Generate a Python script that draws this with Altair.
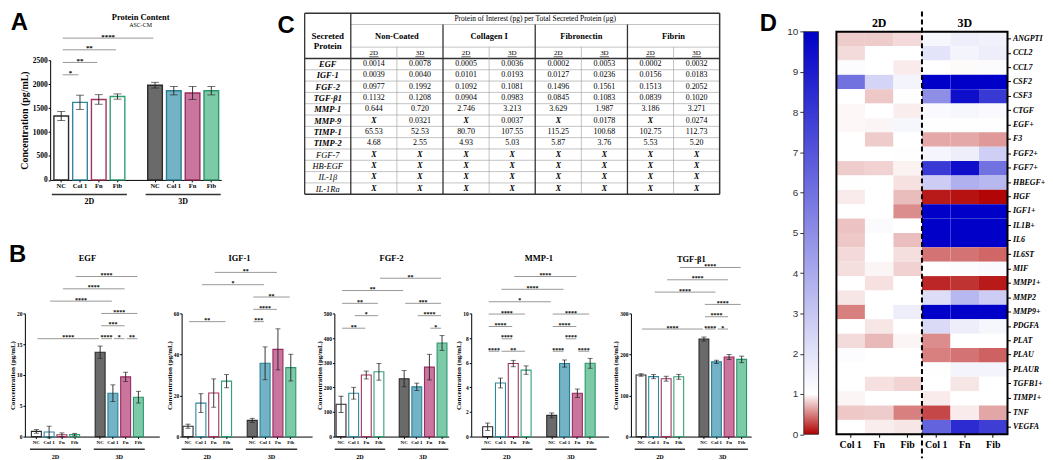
import altair as alt
import pandas as pd

SX, SY = 0.99, 0.98
SERIF = "Liberation Serif"
SANS = "Liberation Sans"

# ---------------- shared categories ----------------
conditions = ["NC", "Col 1", "Fn", "Fib"]
dims = ["2D", "3D"]
SPACER = "gap"
bar_keys = [f"2D|{c}" for c in conditions] + [SPACER] + [f"3D|{c}" for c in conditions]
real_keys = [k for k in bar_keys if k != SPACER]
fill_colors = ["#ffffff", "#ffffff", "#ffffff", "#ffffff", "#6a6a6a", "#73b3c5", "#c9759d", "#7dcaa9"]
stroke_colors = ["#2b2b2b", "#2f87a1", "#a3335f", "#30a072", "#2b2b2b", "#2a7f97", "#982c60", "#2c966b"]

# ---------------- Panel A: protein content ----------------
a_mean_2d = [1335, 1619, 1680, 1741]
a_err_2d = [95, 150, 100, 55]
a_mean_3d = [1978, 1863, 1816, 1863]
a_err_3d = [60, 88, 135, 88]
a_ticks = [0, 500, 1000, 1500, 2000, 2500]
a_brackets = [("2D|NC", "3D|NC", 2961, "****"), ("2D|NC", "2D|Fib", 2717, "**"),
              ("2D|NC", "2D|Fn", 2453, "**"), ("2D|NC", "2D|Col 1", 2195, "*")]

# ---------------- Panel B ----------------
egf_2d = [0.84, 0.74, 0.3, 0.32]
egf_err_2d = [0.3, 0.95, 0.3, 0.2]
egf_3d = [13.7, 7.05, 9.7, 6.4]
egf_err_3d = [1.0, 1.35, 0.75, 0.95]
egf_ticks = [0, 5, 10, 15, 20]
egf_br = [("2D|Fib", "3D|Fib", 26, "****"), ("2D|Fn", "3D|Fn", 24, "****"),
          ("2D|Col 1", "3D|Col 1", 22, "****"), ("3D|NC", "3D|Fib", 20, "****"),
          ("3D|NC", "3D|Fn", 18, "***"), ("2D|NC", "3D|NC", 15.9, "****"),
          ("3D|NC", "3D|Col 1", 15.9, "****"), ("3D|Col 1", "3D|Fn", 15.9, "*"),
          ("3D|Fn", "3D|Fib", 15.9, "**")]

igf_2d = [5.05, 16.3, 21.2, 27.0]
igf_err_2d = [1.0, 4.6, 6.9, 3.2]
igf_3d = [7.9, 35.7, 42.5, 33.6]
igf_err_3d = [1.0, 8.0, 10.0, 6.5]
igf_ticks = [0, 20, 40, 60]
igf_br = [("2D|Fn", "3D|Fn", 80, "**"), ("2D|Col 1", "3D|Col 1", 74, "*"),
          ("3D|NC", "3D|Fib", 68, "**"), ("3D|NC", "3D|Fn", 62, "****"),
          ("2D|NC", "2D|Fib", 56, "**"), ("3D|NC", "3D|Col 1", 56, "***")]

fgf_2d = [131, 176, 250, 263]
fgf_err_2d = [33, 24, 16, 34]
fgf_3d = [235, 202, 282, 380]
fgf_err_3d = [33, 15, 52, 30]
fgf_ticks = [0, 100, 200, 300, 400, 500]
fgf_br = [("2D|Fib", "3D|Fib", 643, "**"), ("2D|NC", "3D|NC", 593, "**"),
          ("2D|NC", "2D|Fib", 541, "**"), ("3D|NC", "3D|Fib", 541, "***"),
          ("2D|Col 1", "2D|Fib", 491, "*"), ("3D|Col 1", "3D|Fib", 491, "****"),
          ("2D|NC", "2D|Fn", 440, "**"), ("3D|Fn", "3D|Fib", 440, "*")]

mmp_2d = [0.8, 4.35, 5.93, 5.4]
mmp_err_2d = [0.3, 0.4, 0.26, 0.34]
mmp_3d = [1.72, 5.93, 3.52, 5.95]
mmp_err_3d = [0.2, 0.29, 0.34, 0.4]
mmp_ticks = [0, 2, 4, 6, 8, 10]
mmp_br = [("2D|Fn", "3D|Fn", 13.0, "****"), ("2D|Col 1", "3D|Col 1", 11.96, "****"),
          ("2D|NC", "3D|NC", 10.95, "*"), ("2D|NC", "2D|Fib", 9.95, "****"),
          ("3D|NC", "3D|Fib", 9.95, "****"), ("2D|NC", "2D|Fn", 8.94, "****"),
          ("3D|NC", "3D|Fn", 8.94, "****"), ("2D|Col 1", "2D|Fn", 7.94, "****"),
          ("3D|Col 1", "3D|Fn", 7.94, "****"), ("2D|NC", "2D|Col 1", 6.93, "****"),
          ("2D|Col 1", "2D|Fib", 6.93, "**"), ("3D|NC", "3D|Col 1", 6.93, "****"),
          ("3D|Fn", "3D|Fib", 6.93, "****")]

tgf_2d = [150, 146, 141, 145.6]
tgf_err_2d = [3, 5, 6, 6]
tgf_3d = [237.6, 182, 194, 188]
tgf_err_3d = [5, 4, 6, 8]
tgf_ticks = [0, 100, 200, 300]
tgf_br = [("2D|Fib", "3D|Fib", 412, "****"), ("2D|Fn", "3D|Fn", 382, "****"),
          ("2D|Col 1", "3D|Col 1", 352, "****"), ("3D|NC", "3D|Fib", 322, "****"),
          ("3D|NC", "3D|Fn", 292, "****"), ("2D|NC", "3D|NC", 262, "****"),
          ("3D|NC", "3D|Col 1", 262, "****"), ("3D|Col 1", "3D|Fn", 262, "*")]

# ---------------- Panel C: table ----------------
coatings = ["Non-Coated", "Collagen I", "Fibronectin", "Fibrin"]
detected_proteins = ["EGF", "IGF-1", "FGF-2", "TGF-β1", "MMP-1", "MMP-9", "TIMP-1", "TIMP-2"]
undetected_proteins = ["FGF-7", "HB-EGF", "IL-1β", "IL-1Ra"]
table_proteins = detected_proteins + undetected_proteins
nc_2d = ["0.0014", "0.0039", "0.0977", "0.1132", "0.644", "X", "65.53", "4.68", "X", "X", "X", "X"]
nc_3d = ["0.0078", "0.0040", "0.1992", "0.1208", "0.720", "0.0321", "52.53", "2.55", "X", "X", "X", "X"]
col_2d = ["0.0005", "0.0101", "0.1092", "0.0904", "2.746", "X", "80.70", "4.93", "X", "X", "X", "X"]
col_3d = ["0.0036", "0.0193", "0.1081", "0.0983", "3.213", "0.0037", "107.55", "5.03", "X", "X", "X", "X"]
fn_2d = ["0.0002", "0.0127", "0.1496", "0.0845", "3.629", "X", "115.25", "5.87", "X", "X", "X", "X"]
fn_3d = ["0.0053", "0.0236", "0.1561", "0.1083", "1.987", "0.0178", "100.68", "3.76", "X", "X", "X", "X"]
fib_2d = ["0.0002", "0.0156", "0.1513", "0.0839", "3.186", "X", "102.75", "5.53", "X", "X", "X", "X"]
fib_3d = ["0.0032", "0.0183", "0.2052", "0.1020", "3.271", "0.0274", "112.73", "5.20", "X", "X", "X", "X"]
table_title = "Protein of Interest (pg) per Total Secreted Protein (μg)"
table_header = "Secreted\nProtein"

# ---------------- Panel D: heatmap ----------------
genes = ["ANGPTI", "CCL2", "CCL7", "CSF2", "CSF3", "CTGF", "EGF+", "F3", "FGF2+", "FGF7+",
         "HBEGF+", "HGF", "IGF1+", "IL1B+", "IL6", "IL6ST", "MIF", "MMP1+", "MMP2", "MMP9+",
         "PDGFA", "PLAT", "PLAU", "PLAUR", "TGFB1+", "TIMP1+", "TNF", "VEGFA"]
hm_2d_col1 = [0.8, 0.86, 1.1, 6.0, 1.0, 0.97, 0.97, 1.0, 1.0, 0.8, 1.05, 0.92, 1.0, 0.76,
              0.78, 0.85, 0.87, 1.0, 0.9, 0.5, 1.0, 0.86, 1.1, 1.0, 1.0, 0.96, 0.78, 1.0]
hm_2d_fn = [0.8, 1.0, 1.0, 2.5, 0.78, 1.0, 0.96, 0.8, 1.0, 0.82, 1.0, 1.0, 1.0, 1.15,
            1.0, 1.0, 0.96, 0.88, 1.0, 1.0, 0.9, 0.72, 1.0, 1.0, 0.88, 1.0, 0.8, 0.93]
hm_2d_fib = [0.85, 1.0, 0.92, 1.4, 1.05, 0.93, 1.3, 1.0, 1.05, 0.95, 0.88, 0.74, 0.55, 1.0,
             0.75, 0.87, 0.82, 1.0, 1.0, 1.6, 1.0, 0.96, 1.0, 1.0, 0.83, 1.0, 0.5, 0.9]
hm_3d_col1 = [1.3, 2.0, 1.0, 10, 5.0, 1.2, 1.05, 0.66, 1.35, 8.0, 2.8, 0.1, 10, 10,
              10, 0.45, 1.0, 0.15, 2.2, 10, 2.3, 0.55, 0.5, 1.05, 1.0, 0.92, 0.28, 6.5]
hm_3d_fn = [1.6, 1.4, 0.98, 10, 9.5, 1.3, 1.05, 0.66, 1.6, 9.5, 3.8, 0.07, 10, 10,
            10, 0.45, 1.1, 0.2, 3.5, 10, 1.6, 1.0, 0.45, 1.4, 0.9, 1.0, 0.92, 8.5]
hm_3d_fib = [1.5, 1.6, 1.15, 10, 8.0, 1.2, 1.05, 0.6, 2.7, 6.0, 3.5, 0.02, 10, 10,
             10, 0.4, 1.2, 0.1, 2.8, 10, 1.3, 1.0, 0.38, 1.4, 1.0, 1.0, 0.65, 7.8]
hm_conditions = ["Col 1", "Fn", "Fib"]
cb_domain = [0, 1, 10]
cb_colors = ["#b00000", "#ffffff", "#0000c8"]
cb_ticks = list(range(0, 11))

LABEL_EXPR = "indexof(datum.value, '|') > 0 ? slice(datum.value, indexof(datum.value, '|') + 1) : ''"
LETTER_HALF = 0.722 * 24 / 2  # half advance width of a 24px bold sans capital


def text_layer(text, x, y, font=SERIF, size=8, weight="bold", style="normal", align="center"):
    d = pd.DataFrame({"t": [text]})
    return alt.Chart(d).mark_text(font=font, fontSize=size, fontWeight=weight, fontStyle=style,
                                  align=align, baseline="middle", color="black").encode(
        x=x, y=y, text="t:N")


def bar_panel(title, m2, e2, m3, e3, brackets, ymax, yticks, ytitle, w, h, po, al,
              big=False, x0=0.0, letter=None, letter_xy=(0, 0), subtitle=None,
              title_x=None, title_dy=-56.5):
    """w, x0, h, letter_xy, title_* are in reference pixels (scaled here)."""
    if big:
        fs = dict(ylab=7.5, ytitle=10, xlab=6.5, grp=8, star=7, cap=8, sw=1.4, title=8.5,
                  ul=15, gl=23, tpad=3)
    else:
        fs = dict(ylab=5.5, ytitle=7, xlab=5, grp=6.2, star=6, cap=5, sw=1.1, title=8.5,
                  ul=13, gl=21.4, tpad=1)
    W, X0, H = w * SX, x0 * SX, h * SY
    df = pd.DataFrame({"key": real_keys, "mean": m2 + m3, "err": e2 + e3})
    xs = alt.Scale(domain=bar_keys, paddingInner=0, paddingOuter=po, align=al, range=[X0, W])
    ys = alt.Scale(domain=[0, ymax], nice=False)
    xaxis = alt.Axis(values=real_keys, labelExpr=LABEL_EXPR, title=None, labelAngle=0,
                     labelFont=SERIF, labelFontWeight="bold", labelFontSize=fs["xlab"],
                     labelColor="black", labelPadding=1, tickSize=2, tickColor="black",
                     domainColor="black")
    yaxis = alt.Axis(values=yticks, format="d", title=ytitle, titleFont=SERIF,
                     titleFontWeight="bold", titleFontSize=fs["ytitle"], titleColor="black",
                     titlePadding=fs["tpad"], labelFont=SERIF, labelFontWeight="bold",
                     labelFontSize=fs["ylab"], labelColor="black", labelPadding=1, tickSize=2,
                     tickColor="black", domainColor="black", grid=False, offset=-X0)

    def X(field, **kw):
        return alt.X(field, scale=xs, axis=xaxis, **kw)

    def Y(field):
        return alt.Y(field, scale=ys, axis=yaxis)

    base = alt.Chart(df)
    bars = base.mark_bar(width=alt.RelativeBandSize(band=0.78), strokeWidth=fs["sw"]).encode(
        x=X("key:N"), y=Y("mean:Q"),
        fill=alt.Fill("key:N", scale=alt.Scale(domain=real_keys, range=fill_colors), legend=None),
        stroke=alt.Stroke("key:N", scale=alt.Scale(domain=real_keys, range=stroke_colors), legend=None),
    )
    eb = base.transform_calculate(lo="datum.mean - datum.err", hi="datum.mean + datum.err")
    err_rule = eb.mark_rule(color="#222222", strokeWidth=0.9).encode(
        x=X("key:N"), y=Y("lo:Q"), y2="hi:Q")
    caps = eb.transform_fold(["lo", "hi"], as_=["end", "v"]).mark_tick(
        color="#222222", thickness=0.9, size=fs["cap"]).encode(x=X("key:N"), y=Y("v:Q"))

    rows = []
    for a, b, lvl, lab in brackets:
        m = (bar_keys.index(a) + bar_keys.index(b)) / 2
        rows.append({"k1": a, "k2": b, "lvl": lvl, "lab": lab,
                     "mk": bar_keys[int(m)], "half": m != int(m)})
    br = pd.DataFrame(rows)
    br_rule = alt.Chart(br).mark_rule(color="#8c8c8c", strokeWidth=0.9).encode(
        x=X("k1:N", bandPosition=0.58), x2=alt.X2("k2:N", bandPosition=0.42), y=Y("lvl:Q"))
    layers = [bars, err_rule, caps, br_rule]
    for half, bp in ((False, 0.5), (True, 1.0)):
        sub = br[br["half"] == half]
        if len(sub):
            layers.append(alt.Chart(sub).mark_text(
                font=SERIF, fontWeight="bold", fontSize=fs["star"], baseline="alphabetic",
                align="center", color="black", dy=0.5).encode(
                x=X("mk:N", bandPosition=bp), y=Y("lvl:Q"), text="lab:N"))

    grows = []
    for d in dims:
        ks = [k for k in real_keys if k.startswith(d + "|")]
        grows.append({"dim": d, "first": ks[0], "last": ks[-1], "mid": ks[len(ks) // 2 - 1]})
    gdf = pd.DataFrame(grows)
    layers.append(alt.Chart(gdf).mark_rule(color="#333333", strokeWidth=1.4).encode(
        x=X("first:N", bandPosition=0), x2=alt.X2("last:N", bandPosition=1),
        y=alt.value(H + fs["ul"] * SY)))
    layers.append(alt.Chart(gdf).mark_text(font=SERIF, fontWeight="bold", fontSize=fs["grp"],
                                           baseline="middle", color="black").encode(
        x=X("mid:N", bandPosition=1), y=alt.value(H + fs["gl"] * SY), text="dim:N"))

    # panel title: centred on the spacer band between the 2D and 3D groups
    inner = W - X0
    step = inner / (len(bar_keys) + 2 * po)
    cx = X0 + (inner - len(bar_keys) * step) * al + (bar_keys.index(SPACER) + 0.5) * step
    if title_x is not None:
        cx = title_x * SX
    layers.append(text_layer(title, alt.value(cx), alt.value(title_dy * SY), size=fs["title"]))
    if subtitle:
        layers.append(text_layer(subtitle, alt.value(cx), alt.value((title_dy + 8) * SY),
                                 size=6, weight="normal"))
    if letter:
        layers.append(text_layer(letter, alt.value(letter_xy[0] * SX), alt.value(letter_xy[1] * SY),
                                 font=SANS, size=24))
    return alt.layer(*layers).properties(width=W, height=H)


# Panel A: origin placed at the EGF plot's left edge (ref x 17.3), plot starts 25.7 px further right
A = bar_panel("Protein Content", a_mean_2d, a_err_2d, a_mean_3d, a_err_3d, a_brackets,
              2500, a_ticks, "Concentration (pg/mL)", 199.7, 123, 0.06, 0.75, big=True,
              x0=25.7, letter="A", letter_xy=(-5.5, -38), subtitle="ASC-CM",
              title_x=117.7, title_dy=-44)

BH = 126.5
B1 = bar_panel("EGF", egf_2d, egf_err_2d, egf_3d, egf_err_3d, egf_br, 20, egf_ticks,
               "Concentration (pg/mL)", 136.7, BH, 0.77, 0.26, letter="B", letter_xy=(-7.3, -60.5))
B2 = bar_panel("IGF-1", igf_2d, igf_err_2d, igf_3d, igf_err_3d, igf_br, 60, igf_ticks,
               "Concentration (pg/mL)", 132.7, BH, 0.58, 0.0)
B3 = bar_panel("FGF-2", fgf_2d, fgf_err_2d, fgf_3d, fgf_err_3d, fgf_br, 500, fgf_ticks,
               "Concentration (pg/mL)", 116.3, BH, 0.03, 0.5)
B4 = bar_panel("MMP-1", mmp_2d, mmp_err_2d, mmp_3d, mmp_err_3d, mmp_br, 10, mmp_ticks,
               "Concentration (ng/mL)", 139.7, BH, 0.86, 0.455)
B5 = bar_panel("TGF-β1", tgf_2d, tgf_err_2d, tgf_3d, tgf_err_3d, tgf_br, 300, tgf_ticks,
               "Concentration (ng/mL)", 122.3, BH, 0.28, 0.54, title_dy=-55.5)

# ---------------- table (origin shares A's plot top; table drawn 48.3 px higher) ----------------
T_ROWS = ["title", "grp_a", "grp_b", "dim"] + table_proteins
T_COLS = ["name"] + [f"{c}|{d}" for c in coatings for d in dims]
col_values = [nc_2d, nc_3d, col_2d, col_3d, fn_2d, fn_3d, fib_2d, fib_3d]
T_UP = 48.3 * SY
TW, TH = 422 * SX, 186 * SY
txs = alt.Scale(domain=T_COLS, paddingInner=0, paddingOuter=0)
tys = alt.Scale(domain=T_ROWS, paddingInner=0, paddingOuter=0, range=[-T_UP, TH - T_UP])


def t_hline(rows, bp, sw, color):
    d = pd.DataFrame(rows, columns=["y", "x1", "x2"])
    return alt.Chart(d).mark_rule(strokeWidth=sw, color=color).encode(
        y=alt.Y("y:N", scale=tys, bandPosition=bp, axis=None),
        x=alt.X("x1:N", scale=txs, bandPosition=0, axis=None),
        x2=alt.X2("x2:N", bandPosition=1))


def t_vline(rows, bp, sw, color):
    d = pd.DataFrame(rows, columns=["x", "y1", "y2"])
    return alt.Chart(d).mark_rule(strokeWidth=sw, color=color).encode(
        x=alt.X("x:N", scale=txs, bandPosition=bp, axis=None),
        y=alt.Y("y1:N", scale=tys, bandPosition=0, axis=None),
        y2=alt.Y2("y2:N", bandPosition=1))


def t_text(rows, xbp=0.5, ybp=0.5, **mk):
    d = pd.DataFrame(rows, columns=["x", "y", "t"])
    return alt.Chart(d).mark_text(font=SERIF, color="black", baseline="middle",
                                  align="center", **mk).encode(
        x=alt.X("x:N", scale=txs, bandPosition=xbp, axis=None),
        y=alt.Y("y:N", scale=tys, bandPosition=ybp, axis=None),
        text="t:N")


# short underline beneath each 2D / 3D column label
ul_df = pd.DataFrame({"col": T_COLS[1:], "row": ["dim"] * (len(T_COLS) - 1)})
t_underline = alt.Chart(ul_df).mark_rule(strokeWidth=0.6, color="black").encode(
    x=alt.X("col:N", scale=txs, bandPosition=0.4, axis=None),
    x2=alt.X2("col:N", bandPosition=0.6),
    y=alt.Y("row:N", scale=tys, bandPosition=0.85, axis=None))

first_val, last_col, last_row = T_COLS[1], T_COLS[-1], table_proteins[-1]
t_layers = [
    t_hline([("grp_a", first_val, last_col), ("dim", first_val, last_col)] +
            [(p, "name", last_col) for p in table_proteins[1:]], 0, 0.6, "#9a9a9a"),
    t_hline([("title", "name", last_col), (table_proteins[0], "name", last_col)], 0, 1.5, "#333333"),
    t_hline([(last_row, "name", last_col)], 1, 1.5, "#333333"),
    t_vline([(f"{c}|3D", "dim", last_row) for c in coatings], 0, 0.6, "#9a9a9a"),
    t_vline([("name", "title", last_row), (first_val, "title", last_row)] +
            [(f"{c}|2D", "grp_a", last_row) for c in coatings[1:]], 0, 1.3, "#333333"),
    t_vline([(last_col, "title", last_row)], 1, 1.5, "#333333"),
    t_underline,
    t_text([("name", "grp_a", table_header)], 0.5, 1.0, fontSize=9, fontWeight="bold",
           lineBreak="\n", lineHeight=10.5),
    t_text([(T_COLS[4], "title", table_title)], 1.0, 0.5, fontSize=7.5),
    t_text([(f"{c}|2D", "grp_a", c) for c in coatings], 1.0, 1.0, fontSize=8.5, fontWeight="bold"),
    t_text([(col, "dim", col.split("|")[1]) for col in T_COLS[1:]], fontSize=7),
    t_text([("name", p, p) for p in detected_proteins], fontSize=8.5, fontWeight="bold",
           fontStyle="italic"),
    t_text([("name", p, p) for p in undetected_proteins], fontSize=8.5, fontStyle="italic"),
    t_text([(col, p, v) for col, vals in zip(T_COLS[1:], col_values)
            for p, v in zip(table_proteins, vals) if v != "X"], fontSize=8),
    t_text([(col, p, v) for col, vals in zip(T_COLS[1:], col_values)
            for p, v in zip(table_proteins, vals) if v == "X"], fontSize=8, fontWeight="bold",
           fontStyle="italic"),
    text_layer("C", alt.value(-19 * SX), alt.value(-35 * SY), font=SANS, size=24),
]
C = alt.layer(*t_layers).properties(width=TW, height=TH - T_UP)

# ---------------- heatmap (origin shares A's plot top; map drawn 29.3 px higher) ----------------
D_UP = 29.3 * SY
HW, HH = 174 * SX, 413.6 * SY
hm_cols = [f"{d}|{c}" for d in dims for c in hm_conditions]
hm_lists = [hm_2d_col1, hm_2d_fn, hm_2d_fib, hm_3d_col1, hm_3d_fn, hm_3d_fib]
hm_df = pd.DataFrame([{"gene": g, "col": c, "v": vals[i]}
                      for c, vals in zip(hm_cols, hm_lists) for i, g in enumerate(genes)])
hxs = alt.Scale(domain=hm_cols, paddingInner=0, paddingOuter=0)
hys = alt.Scale(domain=genes, paddingInner=0, paddingOuter=0, range=[-D_UP, HH - D_UP])
hx_axis = alt.Axis(labelExpr=LABEL_EXPR, title=None, labelAngle=0, labelFont=SERIF,
                   labelFontWeight="bold", labelFontSize=10, labelColor="black",
                   tickSize=3, tickColor="black", domain=False, labelPadding=2)
hy_axis = alt.Axis(orient="right", title=None, labelFont=SERIF, labelFontWeight="bold",
                   labelFontStyle="italic", labelFontSize=8, labelColor="black", tickSize=3,
                   tickColor="black", domain=False, labelPadding=2)
color_scale = alt.Scale(domain=cb_domain, range=cb_colors, clamp=True, interpolate="rgb")
hm_rect = alt.Chart(hm_df).mark_rect(strokeWidth=0).encode(
    x=alt.X("col:N", scale=hxs, axis=hx_axis),
    y=alt.Y("gene:N", scale=hys, axis=hy_axis),
    color=alt.Color("v:Q", scale=color_scale, legend=None),
)
frame_df = pd.DataFrame({"c0": [hm_cols[0]], "c1": [hm_cols[-1]], "g0": [genes[0]], "g1": [genes[-1]]})
hm_frame = alt.Chart(frame_df).mark_rect(filled=False, stroke="black", strokeWidth=2).encode(
    x=alt.X("c0:N", scale=hxs, bandPosition=0, axis=hx_axis), x2=alt.X2("c1:N", bandPosition=1),
    y=alt.Y("g0:N", scale=hys, bandPosition=0, axis=hy_axis), y2=alt.Y2("g1:N", bandPosition=1))
sep_df = pd.DataFrame({"sep": [hm_cols[len(hm_conditions) - 1]]})
hm_sep = alt.Chart(sep_df).mark_rule(color="black", strokeWidth=2, strokeDash=[5, 3]).encode(
    x=alt.X("sep:N", scale=hxs, bandPosition=1, axis=hx_axis),
    y=alt.value(-50 * SY), y2=alt.value(409 * SY))
top_df = pd.DataFrame({"dim": dims, "mid": [hm_cols[i * len(hm_conditions) + 1] for i in range(len(dims))]})
hm_top = alt.Chart(top_df).mark_text(font=SERIF, fontWeight="bold", fontSize=12, color="black",
                                     baseline="middle").encode(
    x=alt.X("mid:N", scale=hxs, axis=hx_axis), y=alt.value(-38.3 * SY), text="dim:N")
HM = alt.layer(hm_rect, hm_frame, hm_sep, hm_top).properties(width=HW, height=HH - D_UP)

# colour bar
span = cb_domain[-1] - cb_domain[0]
grad = alt.LinearGradient(gradient="linear", x1=0, x2=0, y1=1, y2=0,
                          stops=[alt.GradientStop(offset=(d - cb_domain[0]) / span, color=c)
                                 for d, c in zip(cb_domain, cb_colors)])
cb_df = pd.DataFrame({"lo": [cb_domain[0]], "hi": [cb_domain[-1]]})
cb_bar = alt.Chart(cb_df).mark_rect(fill=grad, stroke="#222222", strokeWidth=0.8).encode(
    y=alt.Y("lo:Q", scale=alt.Scale(domain=[cb_domain[0], cb_domain[-1]], nice=False,
                                    range=[HH - D_UP, -D_UP]),
            axis=alt.Axis(values=cb_ticks, title=None, labelFont=SANS, labelFontSize=10,
                          labelColor="#333333", tickSize=4, tickColor="#333333", domain=False,
                          grid=False, labelPadding=2)),
    y2="hi:Q", x=alt.value(0), x2=alt.value(15 * SX))
CB = alt.layer(cb_bar, text_layer("D", alt.value(-36 * SX), alt.value(-37 * SY), font=SANS, size=24)
               ).properties(width=15 * SX, height=HH - D_UP)

# ---------------- assembly (spacings derived from the reference positions) ----------------
top_row = alt.hconcat(A, C, spacing=65 * SX - LETTER_HALF, bounds="full")
bottom_row = alt.hconcat(B1, B2, B3, B4, B5, spacing=22 * SX, bounds="flush")
left = alt.vconcat(top_row, bottom_row, spacing=52 * SY - 16, bounds="full")
right = alt.hconcat(CB, HM, spacing=18 * SX, bounds="flush")
chart = alt.hconcat(left, right, spacing=16 * SX - LETTER_HALF, bounds="full",
                    padding={"left": 0, "top": 1, "right": 0, "bottom": 0},
                    background="white").configure_view(stroke=None)

chart.save("out.html", embed_options={"renderer": "svg", "actions": False})
